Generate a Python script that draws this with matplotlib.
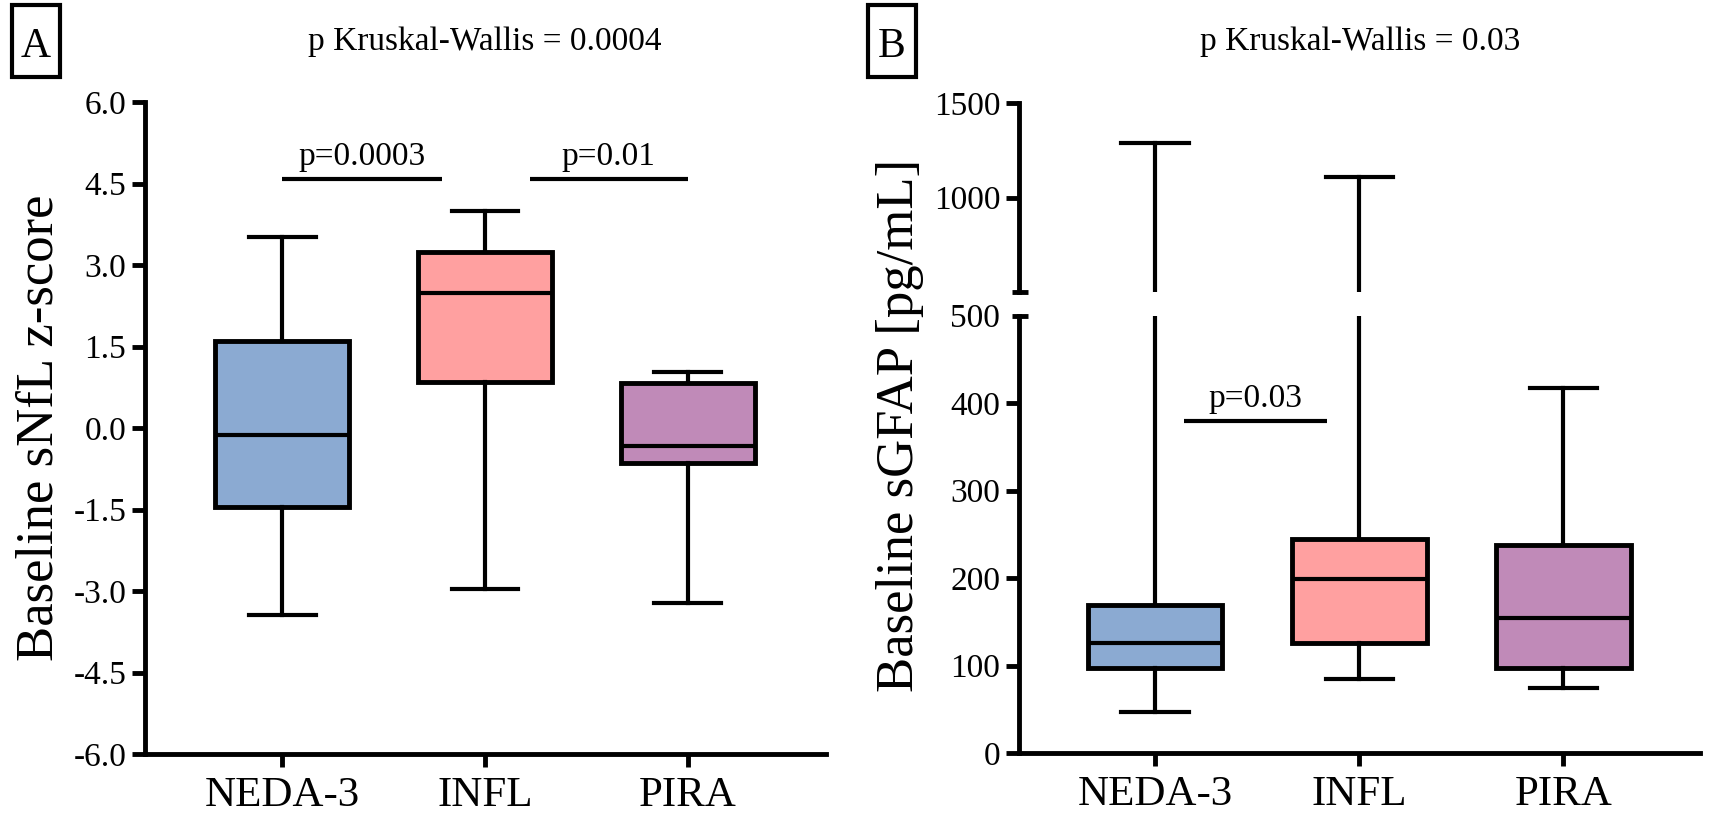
import numpy as np
import matplotlib
matplotlib.use("Agg")
import matplotlib.pyplot as plt
from matplotlib.patches import Rectangle
from matplotlib.ticker import FormatStrFormatter

plt.rcParams['font.family'] = ['Liberation Serif', 'DejaVu Serif']
plt.rcParams['axes.unicode_minus'] = False

groups = ['NEDA-3', 'INFL', 'PIRA']
colors = ['#8BAAD2', '#FFA0A0', '#C08AB8']

# A: baseline sNfL z-score
nfl_min = [-3.44, -2.96, -3.22]
nfl_q1 = [-1.45, 0.85, -0.64]
nfl_med = [-0.13, 2.49, -0.33]
nfl_q3 = [1.60, 3.24, 0.83]
nfl_max = [3.52, 4.00, 1.03]

# B: baseline sGFAP [pg/mL]
gfap_min = [47, 85, 74]
gfap_q1 = [97, 126, 97]
gfap_med = [126, 199, 154]
gfap_q3 = [169, 245, 238]
gfap_max = [1287, 1106, 417]

# pairwise comparisons (x from, x to, height, label)
nfl_cmp_x0 = [0.0, 1.22]
nfl_cmp_x1 = [0.79, 2.0]
nfl_cmp_y = [4.58, 4.58]
nfl_cmp_lab = ['p=0.0003', 'p=0.01']
gfap_cmp_x0 = [0.14]
gfap_cmp_x1 = [0.84]
gfap_cmp_y = [379]
gfap_cmp_lab = ['p=0.03']

W, H = 1712, 816


def stats(lo, q1, med, q3, hi):
    return [dict(whislo=a, q1=b, med=c, q3=d, whishi=e, fliers=[])
            for a, b, c, d, e in zip(lo, q1, med, q3, hi)]


def draw_boxes(ax, st):
    bp = ax.bxp(st, positions=range(3), widths=0.66, capwidths=0.33,
                patch_artist=True, showfliers=False,
                boxprops=dict(linewidth=3.5, edgecolor='black'),
                medianprops=dict(color='black', linewidth=3),
                whiskerprops=dict(color='black', linewidth=3),
                capprops=dict(color='black', linewidth=3))
    for patch, c in zip(bp['boxes'], colors):
        patch.set_facecolor(c)


def style(ax):
    for s in ['top', 'right']:
        ax.spines[s].set_visible(False)
    for s in ['left', 'bottom']:
        ax.spines[s].set_linewidth(3.5)
    ax.tick_params(width=3.5, length=9.5, labelsize=24, pad=4)
    ax.tick_params(axis='x', labelsize=31, pad=7)


def compare(ax, x0, x1, y, lab):
    for a, b, c, t in zip(x0, x1, y, lab):
        ax.plot([a, b], [c, c], color='black', lw=3, solid_capstyle='butt')
        ax.annotate(t, ((a + b) / 2, c), xytext=(0, 10), textcoords='offset points',
                    ha='center', va='baseline', fontsize=24)


fig = plt.figure(figsize=(17.12, 8.16), dpi=100)

# ---- panel A ----
axA = fig.add_axes([145 / W, 1 - 754 / H, 681 / W, 652 / H])
draw_boxes(axA, stats(nfl_min, nfl_q1, nfl_med, nfl_q3, nfl_max))
style(axA)
axA.set_xlim(-0.675, 2.68)
axA.set_ylim(-6, 6)
axA.set_yticks(np.arange(-6, 6.01, 1.5))
axA.yaxis.set_major_formatter(FormatStrFormatter('%.1f'))
axA.set_xticks(range(3))
axA.set_xticklabels(groups)
compare(axA, nfl_cmp_x0, nfl_cmp_x1, nfl_cmp_y, nfl_cmp_lab)

# ---- panel B (broken axis) ----
axB = fig.add_axes([1019 / W, 1 - 753 / H, 681 / W, 437.5 / H])
axT = fig.add_axes([1019 / W, 1 - 292 / H, 681 / W, 189 / H], sharex=axB)
st = stats(gfap_min, gfap_q1, gfap_med, gfap_q3, gfap_max)
draw_boxes(axB, st)
draw_boxes(axT, st)
style(axB)
style(axT)
axB.set_xlim(-0.667, 2.67)
axB.set_ylim(0, 500)
axB.set_yticks(np.arange(0, 501, 100))
axB.yaxis.get_major_ticks()[-1].tick1line.set_visible(False)
axB.set_xticks(range(3))
axB.set_xticklabels(groups)
axT.set_ylim(500, 1500)
axT.set_yticks([1000, 1500])
axT.spines['bottom'].set_visible(False)
axT.tick_params(axis='x', bottom=False, labelbottom=False)
for ax, yy in [(axB, 1), (axT, 0)]:
    ax.plot([-7 / 681, 9 / 681], [yy, yy], transform=ax.transAxes, clip_on=False,
            color='black', lw=3.5, solid_capstyle='butt')
compare(axB, gfap_cmp_x0, gfap_cmp_x1, gfap_cmp_y, gfap_cmp_lab)

# labels and titles
fig.text(40 / W, 1 - 428 / H, 'Baseline sNfL z-score', rotation=90,
         ha='center', va='center', fontsize=38)
fig.text(900 / W, 1 - 425 / H, 'Baseline sGFAP [pg/mL]', rotation=90,
         ha='center', va='center', fontsize=38)
fig.text(485 / W, 1 - 50 / H, 'p Kruskal-Wallis = 0.0004', ha='center',
         va='baseline', fontsize=24)
fig.text(1360 / W, 1 - 50 / H, 'p Kruskal-Wallis = 0.03', ha='center',
         va='baseline', fontsize=24)

for letter, x0 in [('A', 12), ('B', 868)]:
    fig.patches.append(Rectangle((x0 / W, 1 - 77 / H), 48 / W, 72 / H,
                                 transform=fig.transFigure, fill=False,
                                 edgecolor='black', lw=3))
    fig.text((x0 + 24) / W, 1 - 57 / H, letter, ha='center', va='baseline',
             fontsize=30)

fig.savefig('out.png', dpi=100, facecolor='white')
